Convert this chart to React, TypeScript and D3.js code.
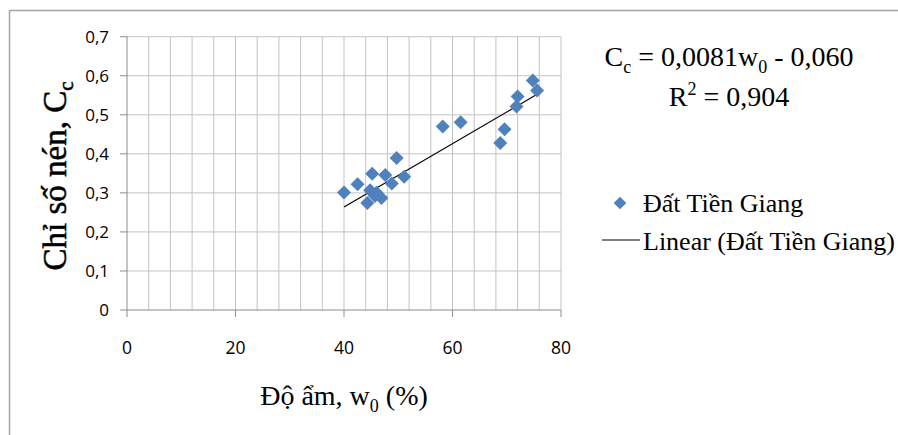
import { useRef, useEffect } from 'react'
import * as d3 from 'd3'

// Độ ẩm w0 (%) và chỉ số nén Cc
const MOISTURE = [40.0, 42.5, 44.3, 44.8, 45.2, 45.7, 46.0, 46.9, 47.6, 48.8, 49.7, 51.1, 58.2, 61.5, 68.8, 69.6, 71.8, 72.0, 74.8, 75.6]
const CC = [0.301, 0.322, 0.274, 0.307, 0.349, 0.292, 0.300, 0.287, 0.346, 0.324, 0.389, 0.341, 0.470, 0.481, 0.428, 0.463, 0.521, 0.547, 0.588, 0.562]

const X_TICKS = [0, 20, 40, 60, 80]
const Y_TICKS = [0, 0.1, 0.2, 0.3, 0.4, 0.5, 0.6, 0.7]
const X_GRID_STEP = 4

const SLOPE = 0.0081
const INTERCEPT = -0.060
const R2 = '0,904'
const SERIES_NAME = 'Đất Tiền Giang'

const W = 898
const H = 435
const SERIF = '"Liberation Serif", "Times New Roman", serif'
const SANS = '"Open Sans", Lato, sans-serif'
const BLUE = '#4F81BD'

const fmt = (d: number) => (d === 0 ? '0' : d.toFixed(1).replace('.', ','))

export default function App() {
  const gRef = useRef<SVGGElement | null>(null)

  useEffect(() => {
    if (!gRef.current) return
    const g = d3.select(gRef.current)
    g.selectAll('*').remove()

    const pad = { l: 127, r: 561, t: 36.7, b: 310 }
    const x = d3.scaleLinear().domain([0, 80]).range([pad.l, pad.r])
    const y = d3.scaleLinear().domain([0, 0.7]).range([pad.b, pad.t])

    // khung ngoài
    g.append('path')
      .attr('d', `M9.5,${H} V10.5 H${W}`)
      .attr('fill', 'none')
      .attr('stroke', '#A6A6A6')
      .attr('stroke-width', 1.5)

    // lưới
    const xGrid = d3.range(0, 80 + 0.001, X_GRID_STEP)
    g.selectAll('.vgrid')
      .data(xGrid.slice(1))
      .join('line')
      .attr('class', 'vgrid')
      .attr('x1', d => x(d)).attr('x2', d => x(d))
      .attr('y1', pad.t).attr('y2', pad.b)
      .attr('stroke', '#C3C3C3')

    g.selectAll('.hgrid')
      .data(Y_TICKS.slice(1))
      .join('line')
      .attr('class', 'hgrid')
      .attr('x1', pad.l).attr('x2', pad.r)
      .attr('y1', d => y(d)).attr('y2', d => y(d))
      .attr('stroke', '#C3C3C3')

    // trục
    g.append('line')
      .attr('x1', pad.l).attr('x2', pad.l).attr('y1', pad.t).attr('y2', pad.b)
      .attr('stroke', '#8C8C8C')
    g.append('line')
      .attr('x1', pad.l).attr('x2', pad.r).attr('y1', pad.b).attr('y2', pad.b)
      .attr('stroke', '#8C8C8C')

    g.selectAll('.ytick')
      .data(Y_TICKS)
      .join('line')
      .attr('class', 'ytick')
      .attr('x1', pad.l - 7).attr('x2', pad.l)
      .attr('y1', d => y(d)).attr('y2', d => y(d))
      .attr('stroke', '#8C8C8C')

    g.selectAll('.xtick')
      .data(X_TICKS)
      .join('line')
      .attr('class', 'xtick')
      .attr('x1', d => x(d)).attr('x2', d => x(d))
      .attr('y1', pad.b).attr('y2', pad.b + 7)
      .attr('stroke', '#8C8C8C')

    g.selectAll('.ylab')
      .data(Y_TICKS)
      .join('text')
      .attr('class', 'ylab')
      .attr('x', 109)
      .attr('y', d => y(d) + 6)
      .attr('text-anchor', 'end')
      .attr('font-size', 17)
      .attr('font-family', SANS)
      .attr('fill', '#000')
      .text(d => fmt(d))

    g.selectAll('.xlab')
      .data(X_TICKS)
      .join('text')
      .attr('class', 'xlab')
      .attr('x', d => x(d))
      .attr('y', 354)
      .attr('text-anchor', 'middle')
      .attr('font-size', 17.5)
      .attr('font-family', SANS)
      .attr('fill', '#000')
      .text(d => String(d))

    // đường hồi quy
    const [x0, x1] = d3.extent(MOISTURE) as [number, number]
    const line = d3.line<number>().x(d => x(d)).y(d => y(SLOPE * d + INTERCEPT))
    g.append('path')
      .attr('d', line([x0, x1]))
      .attr('stroke', '#000')
      .attr('stroke-width', 1.2)
      .attr('fill', 'none')

    // điểm
    const diamond = d3.symbol().type(d3.symbolSquare).size(98)
    g.selectAll('.pt')
      .data(MOISTURE.map((w, i) => ({ w, c: CC[i] })))
      .join('path')
      .attr('class', 'pt')
      .attr('d', diamond)
      .attr('transform', d => `translate(${x(d.w)},${y(d.c)}) rotate(45)`)
      .attr('fill', BLUE)

    // chú giải
    g.append('path')
      .attr('d', d3.symbol().type(d3.symbolSquare).size(80)())
      .attr('transform', 'translate(620,203) rotate(45)')
      .attr('fill', BLUE)
    g.append('line')
      .attr('x1', 602).attr('x2', 640).attr('y1', 240).attr('y2', 240)
      .attr('stroke', '#000')
      .attr('stroke-width', 1.2)
  }, [])

  return (
    <svg
      width={W}
      height={H}
      style={{ position: 'absolute', left: 0, top: 0, display: 'block', background: '#fff' }}
    >
      <g ref={gRef} />
      <g fontFamily={SERIF} fill="#000">
        <text x={729} y={66} textAnchor="middle" fontSize={28}>
          C<tspan fontSize={18} dy={7}>c</tspan>
          <tspan dy={-7}> = 0,0081w</tspan>
          <tspan fontSize={18} dy={7}>0</tspan>
          <tspan dy={-7}> - 0,060</tspan>
        </text>
        <text x={729} y={106} textAnchor="middle" fontSize={28}>
          R<tspan fontSize={18} dy={-11}>2</tspan>
          <tspan dy={11}> = {R2}</tspan>
        </text>
        <text x={344} y={405} textAnchor="middle" fontSize={28}>
          Độ ẩm, w<tspan fontSize={18} dy={7}>0</tspan>
          <tspan dy={-7}> (%)</tspan>
        </text>
        <text
          transform="translate(66,176) rotate(-90)"
          textAnchor="middle"
          fontSize={33}
          stroke="#000"
          strokeWidth={0.5}
        >
          Chỉ số nén, C<tspan fontSize={21} dy={7}>c</tspan>
        </text>
        <text x={643} y={212} fontSize={26}>{SERIES_NAME}</text>
        <text x={643} y={250} fontSize={26}>Linear ({SERIES_NAME})</text>
      </g>
    </svg>
  )
}
